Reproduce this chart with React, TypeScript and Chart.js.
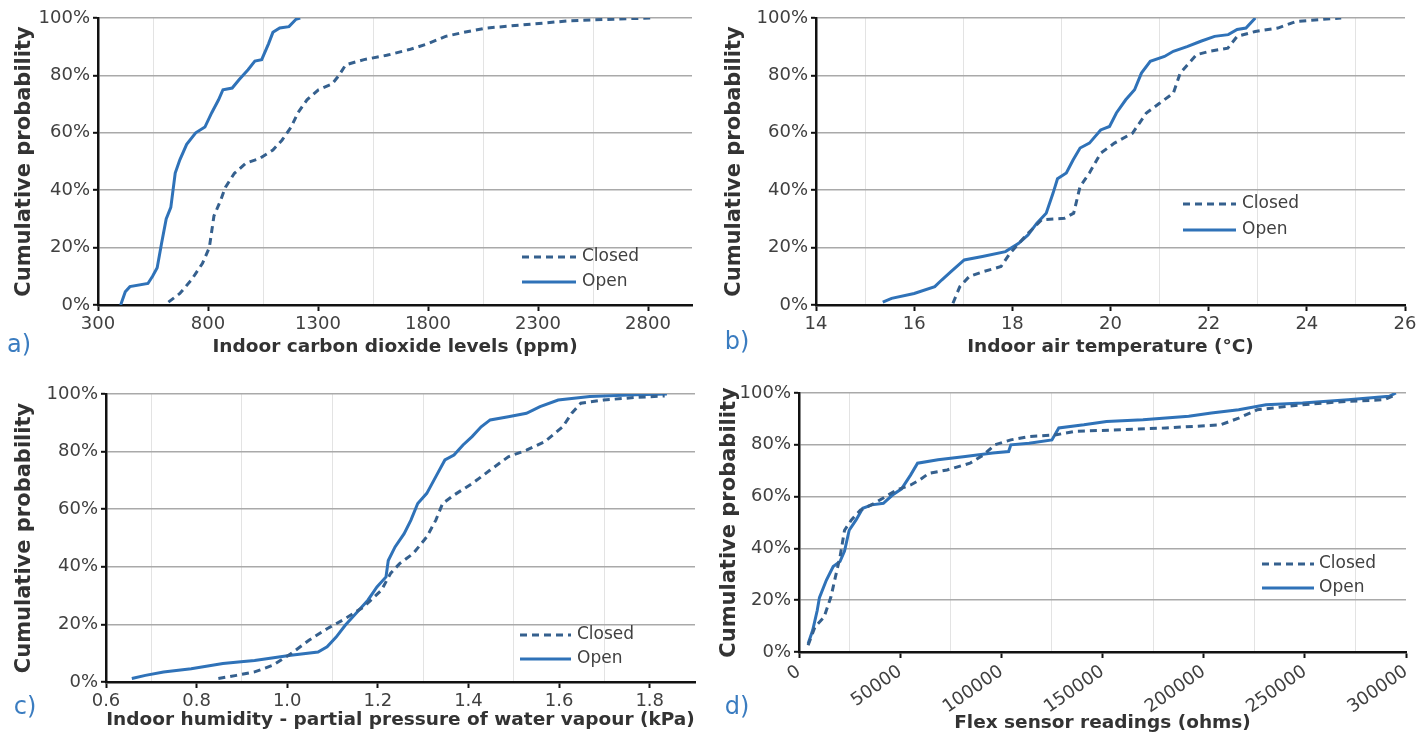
import React, { useEffect, useRef } from 'react';
import { Chart, registerables } from 'chart.js';

Chart.register(...registerables);

const FONT = "'DejaVu Sans', 'Liberation Sans', sans-serif";
const TEXT = '#404040';
const OPEN_COLOR = '#2f72b8';
const CLOSED_COLOR = '#35608e';

// ---------- shared y axis ----------
const yTicks = [0, 20, 40, 60, 80, 100];
const yTitle = 'Cumulative probability';
const seriesNames = ['Closed', 'Open'];

// ---------- a) CO2 ----------
const aXTicks = [300, 550, 800, 1050, 1300, 1550, 1800, 2050, 2300, 2550, 2800];
const aXLabels = [300, 800, 1300, 1800, 2300, 2800];
const aOpenX = [403, 424, 445, 527, 548, 569, 589, 610, 631, 651, 672, 703, 744, 786, 817, 848, 868, 910, 941, 982, 1013, 1044, 1075, 1095, 1126, 1168, 1199, 1219];
const aOpenY = [0, 4.6, 6.4, 7.5, 10, 13, 21.5, 30, 34, 46, 50.6, 56, 60, 62, 67, 71.5, 75, 75.6, 78.5, 82, 85, 85.5, 91, 95, 96.5, 97, 99.5, 100];
const aClosedX = [620, 672, 724, 775, 806, 827, 858, 879, 920, 972, 1033, 1095, 1137, 1178, 1209, 1250, 1302, 1364, 1395, 1426, 1509, 1612, 1715, 1798, 1880, 1963, 2066, 2231, 2438, 2645, 2810];
const aClosedY = [1, 4, 8.7, 14.5, 20, 31, 36.6, 41, 45.9, 49.4, 51, 54, 57.5, 62, 67, 71.5, 75, 77, 80, 83.7, 85.5, 87, 89, 91, 93.6, 95, 96.5, 97.6, 99, 99.6, 100];

// ---------- b) air temperature ----------
const bXTicks = [14, 15, 16, 17, 18, 19, 20, 21, 22, 23, 24, 25, 26];
const bXLabels = [14, 16, 18, 20, 22, 24, 26];
const bOpenX = [15.36, 15.54, 16.0, 16.42, 16.56, 16.75, 17.02, 17.39, 17.86, 18.13, 18.32, 18.5, 18.69, 18.83, 18.92, 19.1, 19.24, 19.38, 19.57, 19.8, 19.98, 20.12, 20.31, 20.49, 20.63, 20.81, 21.1, 21.28, 21.56, 21.84, 22.12, 22.4, 22.58, 22.76, 22.95];
const bOpenY = [1, 2.3, 4, 6.4, 8.7, 11.6, 15.7, 16.9, 18.6, 21.5, 24.4, 28.5, 32, 39, 44, 46, 50.6, 54.7, 56.4, 61, 62.2, 66.9, 71.5, 75, 80.8, 84.9, 86.6, 88.4, 90, 91.9, 93.6, 94.2, 96, 96.5, 100];
const bClosedX = [16.79, 16.93, 17.12, 17.4, 17.77, 17.95, 18.32, 18.6, 19.06, 19.25, 19.38, 19.57, 19.8, 20.08, 20.45, 20.73, 21.0, 21.28, 21.42, 21.75, 22.02, 22.39, 22.58, 22.95, 23.41, 23.78, 24.24, 24.7];
const bClosedY = [0.6, 6.4, 9.9, 11.6, 13.4, 18, 25, 29.7, 30.2, 32, 41.3, 46, 52.9, 56.4, 59.9, 66.9, 70.3, 73.8, 80.8, 87.2, 88.4, 89.5, 93.6, 95.3, 96.5, 98.8, 99.4, 100];

// ---------- c) humidity ----------
const cXTicks = [0.6, 0.7, 0.8, 0.9, 1.0, 1.1, 1.2, 1.3, 1.4, 1.5, 1.6, 1.7, 1.8];
const cXLabels = [0.6, 0.8, 1.0, 1.2, 1.4, 1.6, 1.8];
const cOpenX = [0.657, 0.687, 0.727, 0.788, 0.858, 0.898, 0.928, 1.008, 1.068, 1.088, 1.108, 1.128, 1.158, 1.178, 1.198, 1.218, 1.223, 1.238, 1.258, 1.273, 1.288, 1.308, 1.328, 1.348, 1.368, 1.388, 1.408, 1.428, 1.448, 1.488, 1.528, 1.558, 1.598, 1.668, 1.768, 1.838];
const cOpenY = [1.2, 2.3, 3.5, 4.6, 6.4, 7, 7.5, 9.3, 10.4, 12.2, 15.6, 19.7, 24.9, 28.4, 33, 36.5, 42.2, 46.9, 51.5, 56.2, 62, 65.5, 71.3, 77.1, 78.8, 82.3, 85.2, 88.6, 91, 92.1, 93.3, 95.6, 97.9, 99.1, 99.7, 100];
const cClosedX = [0.848, 0.888, 0.928, 0.968, 1.008, 1.048, 1.088, 1.128, 1.168, 1.208, 1.228, 1.248, 1.278, 1.308, 1.328, 1.343, 1.368, 1.408, 1.448, 1.488, 1.528, 1.568, 1.608, 1.628, 1.648, 1.698, 1.768, 1.833];
const cClosedY = [1.2, 2.3, 3.5, 5.8, 9.8, 14.5, 18.5, 22, 26, 31.9, 37.7, 41.1, 44.6, 50.4, 56.2, 62, 64.9, 68.9, 73.6, 78.2, 80.5, 83.4, 88.6, 93.3, 96.8, 97.9, 98.8, 99.3];

// ---------- d) flex sensor ----------
const dXTicks = [0, 25000, 50000, 75000, 100000, 125000, 150000, 175000, 200000, 225000, 250000, 275000, 300000];
const dXLabels = [0, 50000, 100000, 150000, 200000, 250000, 300000];
const dOpenX = [4500, 6760, 9000, 10100, 13500, 16900, 20300, 22500, 24800, 28200, 31500, 36000, 41700, 46200, 50700, 55200, 58600, 68700, 82200, 95700, 103600, 104700, 113700, 125000, 128400, 140800, 152000, 170000, 192600, 203800, 217300, 230800, 248900, 271400, 291700, 295000];
const dOpenY = [3.2, 8.4, 16, 21, 27.7, 33, 35, 39, 47, 51, 55.5, 56.8, 57.4, 60.6, 63, 68.4, 72.9, 74.2, 75.5, 76.8, 77.4, 80, 80.6, 81.9, 86.5, 87.7, 89, 89.7, 91, 92.3, 93.5, 95.5, 96.1, 97.4, 98.7, 100];
const dClosedX = [4500, 7900, 12400, 15800, 18000, 20300, 22500, 25900, 30400, 37200, 42800, 48400, 55200, 59700, 64200, 73200, 84500, 91200, 96800, 104700, 113700, 127300, 136300, 158800, 181300, 208300, 217300, 226400, 248900, 271400, 289400, 295000];
const dClosedY = [2.6, 9.7, 13.5, 21.3, 29, 36.8, 47, 51, 54.8, 57.4, 60, 62.6, 64.5, 66.5, 69, 70.3, 72.9, 76.1, 80, 81.9, 83.2, 83.9, 85.2, 85.8, 86.5, 87.7, 90.3, 93.5, 95.5, 96.8, 97.4, 99.4];

type Panel = {
  tag: string;
  left: number; top: number; width: number; height: number;
  area: { left: number; top: number; right: number; bottom: number };
  xMin: number; xMax: number;
  xTicks: number[]; xLabels: number[]; fmt: (v: number) => string;
  xTitle: string; xTitlePad: number; yTitlePad: number; rot: number;
  legend: { x1: number; x2: number; tx: number; ys: number[] };
  tagPos: { x: number; y: number };
  closedX: number[]; closedY: number[]; openX: number[]; openY: number[];
};

const panels: Panel[] = [
  {
    tag: 'a)', left: 0, top: 0, width: 710, height: 370,
    area: { left: 98, top: 18, right: 692, bottom: 305 },
    xMin: 300, xMax: 3000, xTicks: aXTicks, xLabels: aXLabels, fmt: (v) => String(v),
    xTitle: 'Indoor carbon dioxide levels (ppm)', xTitlePad: 12, yTitlePad: 12, rot: 0,
    legend: { x1: 522, x2: 576, tx: 582, ys: [257, 282] }, tagPos: { x: 19, y: 346 },
    closedX: aClosedX, closedY: aClosedY, openX: aOpenX, openY: aOpenY,
  },
  {
    tag: 'b)', left: 710, top: 0, width: 717, height: 370,
    area: { left: 106, top: 18, right: 695, bottom: 305 },
    xMin: 14, xMax: 26, xTicks: bXTicks, xLabels: bXLabels, fmt: (v) => String(v),
    xTitle: 'Indoor air temperature (°C)', xTitlePad: 12, yTitlePad: 12, rot: 0,
    legend: { x1: 473, x2: 526, tx: 532, ys: [204, 230] }, tagPos: { x: 27, y: 343 },
    closedX: bClosedX, closedY: bClosedY, openX: bOpenX, openY: bOpenY,
  },
  {
    tag: 'c)', left: 0, top: 370, width: 710, height: 366,
    area: { left: 106, top: 24, right: 695, bottom: 312 },
    xMin: 0.6, xMax: 1.9, xTicks: cXTicks, xLabels: cXLabels, fmt: (v) => v.toFixed(1),
    xTitle: 'Indoor humidity - partial pressure of water vapour (kPa)', xTitlePad: 5, yTitlePad: 12, rot: 0,
    legend: { x1: 520, x2: 571, tx: 577, ys: [265, 289] }, tagPos: { x: 25, y: 338 },
    closedX: cClosedX, closedY: cClosedY, openX: cOpenX, openY: cOpenY,
  },
  {
    tag: 'd)', left: 710, top: 370, width: 717, height: 366,
    area: { left: 89, top: 23, right: 696, bottom: 282 },
    xMin: 0, xMax: 300000, xTicks: dXTicks, xLabels: dXLabels, fmt: (v) => String(v),
    xTitle: 'Flex sensor readings (ohms)', xTitlePad: 2, yTitlePad: 7, rot: 35,
    legend: { x1: 552, x2: 604, tx: 609, ys: [194, 218] }, tagPos: { x: 27, y: 338 },
    closedX: dClosedX, closedY: dClosedY, openX: dOpenX, openY: dOpenY,
  },
];

const panelDecor = {
  id: 'panelDecor',
  afterDraw(chart: any, _args: any, opts: any) {
    const ctx = chart.ctx;
    ctx.save();
    const lg = opts.legend;
    chart.data.datasets.forEach((ds: any, i: number) => {
      const y = lg.ys[i];
      ctx.beginPath();
      ctx.setLineDash(ds.borderDash || []);
      ctx.strokeStyle = ds.borderColor;
      ctx.lineWidth = ds.borderWidth;
      ctx.moveTo(lg.x1, y);
      ctx.lineTo(lg.x2, y);
      ctx.stroke();
      ctx.setLineDash([]);
      ctx.fillStyle = TEXT;
      ctx.font = `17px ${FONT}`;
      ctx.textBaseline = 'middle';
      ctx.textAlign = 'left';
      ctx.fillText(ds.label, lg.tx, y);
    });
    ctx.font = `24px ${FONT}`;
    ctx.fillStyle = '#3a7cc0';
    ctx.textAlign = 'center';
    ctx.textBaseline = 'middle';
    ctx.fillText(opts.tag.text, opts.tag.x, opts.tag.y);
    ctx.restore();
  },
};

function toPoints(xs: number[], ys: number[]) {
  return xs.map((x, i) => ({ x, y: ys[i] }));
}

function PanelChart({ p }: { p: Panel }) {
  const ref = useRef<HTMLCanvasElement | null>(null);
  useEffect(() => {
    if (!ref.current) return;
    const chart = new Chart(ref.current, {
      type: 'line',
      data: {
        datasets: [
          {
            label: seriesNames[0],
            data: toPoints(p.closedX, p.closedY),
            borderColor: CLOSED_COLOR,
            borderWidth: 3,
            borderDash: [7, 5],
            pointRadius: 0,
            tension: 0,
            fill: false,
          },
          {
            label: seriesNames[1],
            data: toPoints(p.openX, p.openY),
            borderColor: OPEN_COLOR,
            borderWidth: 3,
            pointRadius: 0,
            tension: 0,
            fill: false,
          },
        ],
      },
      options: {
        animation: false,
        responsive: false,
        maintainAspectRatio: false,
        events: [],
        layout: { padding: { left: 0, top: p.area.top, right: p.width - p.area.right, bottom: 0 } },
        plugins: {
          legend: { display: false },
          tooltip: { enabled: false },
          panelDecor: { legend: p.legend, tag: { text: p.tag, x: p.tagPos.x, y: p.tagPos.y } },
        } as any,
        scales: {
          x: {
            type: 'linear',
            min: p.xMin,
            max: p.xMax,
            afterBuildTicks: (s: any) => { s.ticks = p.xTicks.map((v) => ({ value: v })); },
            afterFit: (s: any) => { s.height = p.height - p.area.bottom; },
            ticks: {
              autoSkip: false,
              minRotation: p.rot,
              maxRotation: p.rot,
              padding: 3,
              color: TEXT,
              font: { family: FONT, size: 18 },
              callback: (v: any) => (p.xLabels.includes(v) ? p.fmt(v) : ''),
            },
            grid: {
              color: (c: any) => (c.tick && p.xLabels.includes(c.tick.value) ? 'rgba(0,0,0,0)' : '#e3e3e3'),
              lineWidth: 1,
              tickLength: 6,
              tickWidth: 2,
              tickColor: (c: any) => (c.tick && p.xLabels.includes(c.tick.value) ? '#111' : 'rgba(0,0,0,0)'),
            },
            border: { color: '#111', width: 2.5 },
            title: {
              display: true,
              text: p.xTitle,
              color: '#333',
              font: { family: FONT, size: 18.5, weight: 'bold' },
              padding: { top: 0, bottom: p.xTitlePad },
            },
          },
          y: {
            type: 'linear',
            min: 0,
            max: 100,
            afterBuildTicks: (s: any) => { s.ticks = yTicks.map((v) => ({ value: v })); },
            afterFit: (s: any) => { s.width = p.area.left; },
            ticks: {
              padding: 3,
              color: TEXT,
              font: { family: FONT, size: 18 },
              callback: (v: any) => `${v}%`,
            },
            grid: {
              color: (c: any) => (c.tick && c.tick.value === 0 ? 'rgba(0,0,0,0)' : '#a9a9a9'),
              lineWidth: 1.6,
              tickLength: 5,
              tickWidth: 2,
              tickColor: '#111',
            },
            border: { color: '#111', width: 2.5 },
            title: {
              display: true,
              text: yTitle,
              color: '#333',
              font: { family: FONT, size: 21, weight: 'bold' },
              padding: { top: p.yTitlePad, bottom: 0 },
            },
          },
        },
      },
      plugins: [panelDecor as any],
    } as any);
    return () => chart.destroy();
  }, [p]);
  return (
    <canvas
      ref={ref}
      width={p.width}
      height={p.height}
      style={{ position: 'absolute', left: p.left, top: p.top, width: p.width, height: p.height }}
    />
  );
}

export default function App() {
  return (
    <div style={{ position: 'absolute', left: 0, top: 0, width: 1427, height: 736, background: '#fff', overflow: 'hidden' }}>
      {panels.map((p) => (
        <PanelChart key={p.tag} p={p} />
      ))}
    </div>
  );
}
